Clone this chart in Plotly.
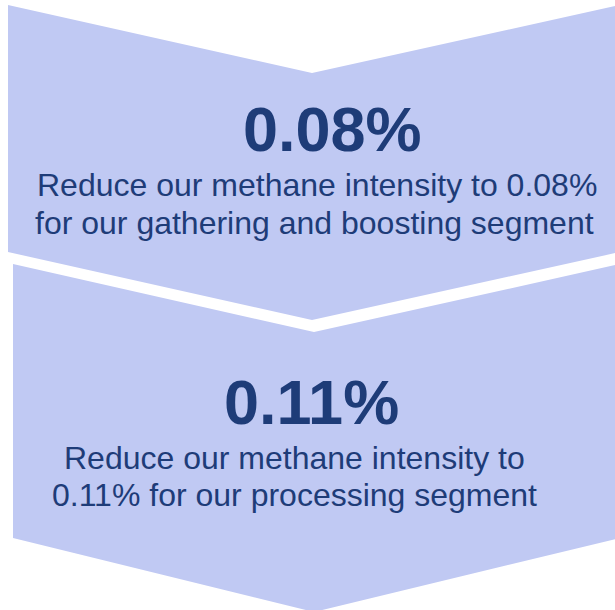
import plotly.graph_objects as go

# ---- data ----
targets = ["0.08%", "0.11%"]
description_lines = [
    ["Reduce our methane intensity to 0.08%", "for our gathering and boosting segment"],
    ["Reduce our methane intensity to", "0.11% for our processing segment"],
]

FILL = "#C0C9F3"
NAVY = "#1E3C78"
FONT = "Arial, Liberation Sans, sans-serif"

W, H = 615, 610
fig = go.Figure()

# chevron geometry (pixel-like coords, y downward)
chevrons = [
    dict(x=[8, 312, 620, 620, 312, 8, 8], y=[5, 73, 5, 252, 320, 252, 5]),
    dict(x=[13, 314, 620, 620, 314, 13, 13], y=[264, 332, 264, 538, 612, 538, 264]),
]
for c in chevrons:
    fig.add_trace(go.Scatter(x=c["x"], y=c["y"], mode="lines", fill="toself",
                             fillcolor=FILL, line=dict(width=0, color=FILL),
                             hoverinfo="skip", showlegend=False))

big_pos = [(332.5, 129), (311.5, 402)]
line_pos = [[(317, 185), (314.5, 223)], [(294.5, 458), (294.5, 495)]]
for i in range(2):
    fig.add_annotation(x=big_pos[i][0], y=big_pos[i][1], text="<b>%s</b>" % targets[i],
                       showarrow=False, xanchor="center", yanchor="middle",
                       font=dict(family=FONT, size=63, color=NAVY))
    for j, line in enumerate(description_lines[i]):
        fig.add_annotation(x=line_pos[i][j][0], y=line_pos[i][j][1], text=line,
                           showarrow=False, xanchor="center", yanchor="middle",
                           font=dict(family=FONT, size=32, color=NAVY))

fig.update_layout(
    width=W, height=H,
    margin=dict(l=0, r=0, t=0, b=0),
    paper_bgcolor="white", plot_bgcolor="white",
    xaxis=dict(range=[0, W], visible=False, fixedrange=True),
    yaxis=dict(range=[H, 0], visible=False, fixedrange=True),
    showlegend=False,
)
fig.write_html("out.html", config={"displayModeBar": False},
               post_script="document.body.style.margin='0';document.body.style.overflow='hidden';")
